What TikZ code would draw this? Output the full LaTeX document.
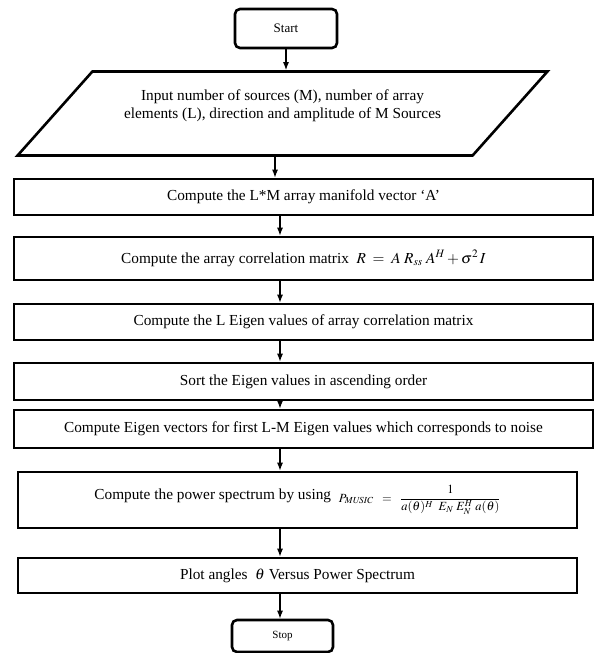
\documentclass[tikz,border=0pt]{standalone}
\usepackage{amsmath}
\usepackage{mathptmx}
\usepackage{fontspec}
\setmainfont{Liberation Serif}
\usetikzlibrary{arrows.meta,shapes.geometric,calc}

\tikzset{
  stepbox/.style={draw,line width=2.6pt,rectangle,minimum width=579pt},
  endbox/.style={draw,line width=2.6pt,rounded corners=5pt},
  iobox/.style={draw,line width=2.6pt,trapezium,trapezium left angle=40,
    trapezium right angle=140,trapezium stretches=true,
    minimum width=531pt,minimum height=84pt,align=center},
  arr/.style={-{Latex[length=8pt,width=6pt]},line width=1.2pt}
}

\begin{document}
\begin{tikzpicture}[x=1pt,y=-1pt,font=\fontsize{15.3}{18}\selectfont]
\useasboundingbox (0,0) rectangle (597,653);
\coordinate (axis) at (280,0);

\node[endbox,minimum width=102pt,minimum height=39pt,font=\fontsize{13}{15}\selectfont] (start) at (286,28.5) {Start};
\node[iobox] (input) at (282.5,113.5) {Input number of sources (M), number of array\\
  elements (L), direction and amplitude of M Sources\\ \mbox{}};
\node[stepbox,minimum height=36pt] (manifold) at (303.5,197) {Compute the L*M array manifold vector `A'};
\node[stepbox,minimum height=43pt] (corr) at (303.5,258.5) {Compute the array correlation matrix \ $R \;=\; A\; R_{ss}\; A^{H} + \sigma^{2}\, I$};
\node[stepbox,minimum height=36pt] (eigval) at (303.5,322) {Compute the L Eigen values of array correlation matrix};
\node[stepbox,minimum height=37pt] (sort) at (303.5,381.5) {Sort the Eigen values in ascending order};
\node[stepbox,minimum height=38pt] (eigvec) at (303.5,429) {Compute Eigen vectors for first L-M Eigen values which corresponds to noise};
\node[stepbox,minimum width=559pt,minimum height=56pt] (spectrum) at (297.5,500) {\raisebox{3pt}{Compute the power spectrum by using} \ {\fontsize{12.5}{14}\selectfont $P_{\mathit{MUSIC}} \;\;=\;\; \dfrac{1}{a(\theta)^{H}\;\; E_{N}\; E_{N}^{H}\; a(\theta)}$}};
\node[stepbox,minimum width=559pt,minimum height=35pt] (plot) at (297.5,575.5) {Plot angles \ $\theta$ Versus Power Spectrum};
\node[endbox,minimum width=101pt,minimum height=32pt,font=\fontsize{11}{13}\selectfont] (stop) at (282.5,636) {Stop};

\path[arr]
(start.south) edge (start.south |- input.north)
([xshift=-7.5pt]input.south) edge ([xshift=-7.5pt]input.south |- manifold.north)
(manifold.south -| axis) edge (corr.north -| axis)
(corr.south -| axis) edge (eigval.north -| axis)
(eigval.south -| axis) edge (sort.north -| axis)
(sort.south -| axis) edge (eigvec.north -| axis)
(eigvec.south -| axis) edge (spectrum.north -| axis)
(spectrum.south -| axis) edge (plot.north -| axis)
(plot.south -| axis) edge (stop.north -| axis);
\end{tikzpicture}
\end{document}
